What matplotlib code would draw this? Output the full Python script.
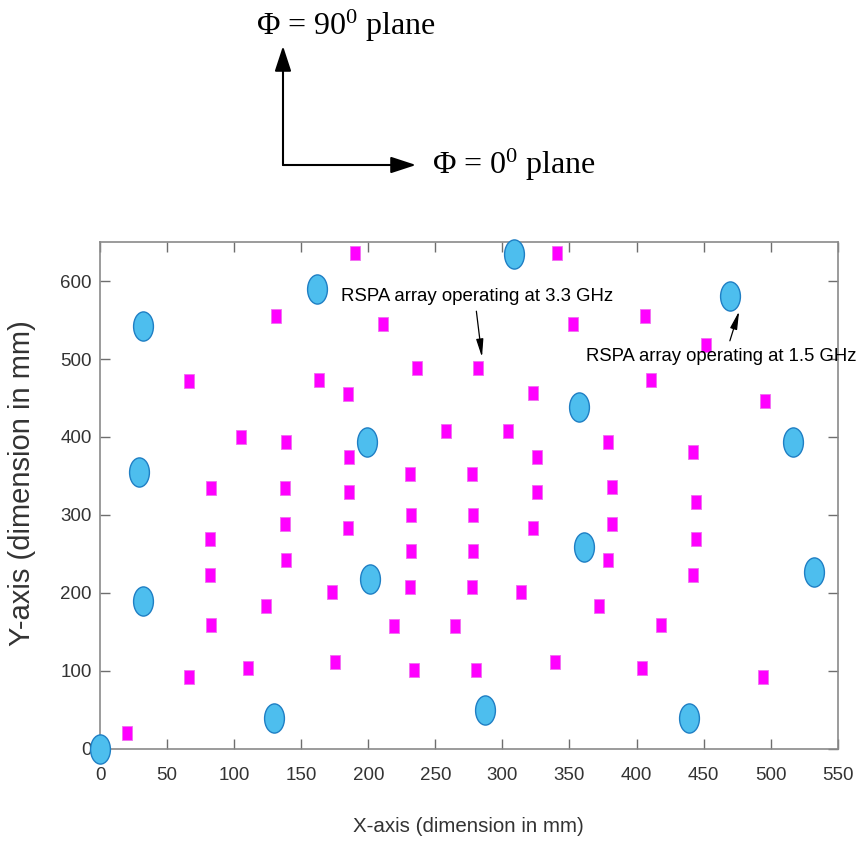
import numpy as np
import matplotlib
matplotlib.use("Agg")
import matplotlib.pyplot as plt
from matplotlib.path import Path
from matplotlib.transforms import Affine2D
from matplotlib.patches import FancyArrowPatch

# --- data (mm) ---
# 1.5 GHz elements (big blue ellipses)
circle_x = [0, 32, 29, 162, 199, 309, 357, 470, 517, 32, 130, 201, 361, 287, 532, 439]
circle_y = [0, 543, 355, 590, 394, 635, 438, 581, 393, 189, 39, 218, 259, 50, 226, 39]

# 3.3 GHz elements (small magenta squares)
square_x = [190, 341, 131, 211, 353, 406, 452, 66, 163, 236, 282, 411, 185, 323, 496, 105,
            139, 258, 304, 379, 186, 326, 442, 231, 277, 83, 138, 186, 326, 382, 444, 232,
            278, 138, 185, 323, 382, 82, 444, 232, 278, 139, 379, 82, 442, 231, 277, 173,
            314, 124, 372, 83, 219, 265, 418, 110, 175, 234, 280, 339, 404, 66, 494, 20]
square_y = [636, 636, 555, 545, 545, 555, 518, 472, 473, 488, 488, 473, 455, 456, 446, 400,
            394, 408, 408, 394, 374, 374, 381, 352, 352, 335, 335, 330, 330, 336, 316, 300,
            300, 288, 283, 283, 288, 269, 269, 254, 254, 242, 242, 223, 223, 208, 208, 201,
            201, 183, 183, 158, 157, 157, 158, 103, 111, 101, 101, 111, 103, 92, 92, 20]

x_ticks = np.arange(0, 551, 50)
y_ticks = np.arange(0, 601, 100)

label_33 = "RSPA array operating at 3.3 GHz"
label_15 = "RSPA array operating at 1.5 GHz"

plt.rcParams["mathtext.fontset"] = "custom"
plt.rcParams["mathtext.rm"] = "Liberation Serif"
plt.rcParams["mathtext.it"] = "Liberation Serif:italic"
sans = ["Liberation Sans", "DejaVu Sans"]

# tall markers, the source picture is stretched vertically
ellipse = Affine2D().scale(0.68, 1.0).transform_path(Path.unit_circle())
rect_v = np.array([[-0.35, -0.5], [0.35, -0.5], [0.35, 0.5], [-0.35, 0.5], [-0.35, -0.5]])
rect = Path(rect_v, closed=True)

fig = plt.figure(figsize=(8.64, 8.52), dpi=100)
W, H = 864, 852
ax = fig.add_axes([100 / W, 1 - 748.5 / H, 737.7 / W, 506.2 / H])

ax.plot(square_x, square_y, linestyle="none", marker=rect, markersize=9.5,
        markerfacecolor="#ff00ff", markeredgecolor="#f070f0", markeredgewidth=0.6,
        clip_on=False, zorder=3)
ax.plot(circle_x, circle_y, linestyle="none", marker=ellipse, markersize=21,
        markerfacecolor="#4dbeee", markeredgecolor="#1f7fc4", markeredgewidth=1.0,
        clip_on=False, zorder=4)

ax.set_xlim(0, 550)
ax.set_ylim(0, 650)
ax.set_xticks(x_ticks)
ax.set_yticks(y_ticks)
for s in ax.spines.values():
    s.set_color("#8a8a8a")
    s.set_linewidth(1.2)
ax.tick_params(direction="in", length=7, width=1, color="#6e6e6e",
               top=True, right=True, labelsize=13.5, labelcolor="#333333")
ax.tick_params(axis="x", pad=13)
ax.tick_params(axis="y", pad=6)
for lab in ax.get_xticklabels() + ax.get_yticklabels():
    lab.set_family(sans)

ax.set_xlabel("X-axis (dimension in mm)", family=sans, fontsize=14.8,
              color="#333333", labelpad=24)
ax.set_ylabel("Y-axis (dimension in mm)", family=sans,
              fontsize=21, color="#333333")
ax.yaxis.set_label_coords(-0.087, 0.525)

# annotations inside the plot
ax.text(180, 581, label_33, family=sans, fontsize=13.4, va="center", ha="left", zorder=5)
ax.annotate("", xy=(284.8, 502.5), xytext=(280.6, 561.5),
            arrowprops=dict(arrowstyle="-|>,head_width=0.18,head_length=0.9",
                            mutation_scale=12, lw=0.9, color="k",
                            shrinkA=0, shrinkB=0))
ax.text(362.5, 503, label_15, family=sans, fontsize=13.3, va="center", ha="left",
        clip_on=False, zorder=5)
ax.annotate("", xy=(476.5, 561.5), xytext=(469.6, 523.5),
            arrowprops=dict(arrowstyle="-|>,head_width=0.18,head_length=0.9",
                            mutation_scale=12, lw=0.9, color="k",
                            shrinkA=0, shrinkB=0))

# phi-plane direction sketch above the axes
corner = (283 / W, 1 - 165 / H)
astyle = "-|>,head_width=0.36,head_length=1.1"
fig.add_artist(FancyArrowPatch(corner, (283 / W, 1 - 46 / H), transform=fig.transFigure,
                               arrowstyle=astyle, mutation_scale=14, lw=1.5, color="k",
                               shrinkA=0, shrinkB=0))
fig.add_artist(FancyArrowPatch(corner, (416 / W, 1 - 165 / H), transform=fig.transFigure,
                               arrowstyle=astyle, mutation_scale=14, lw=1.5, color="k",
                               shrinkA=0, shrinkB=0))
serif = ["Liberation Serif", "DejaVu Serif"]
fig.text(256 / W, 1 - 26 / H, "Φ = 90$^0$ plane", family=serif, fontsize=23,
         va="center", ha="left")
fig.text(432 / W, 1 - 165 / H, "Φ = 0$^0$ plane", family=serif, fontsize=23,
         va="center", ha="left")

fig.savefig("out.png", dpi=100, facecolor="white")
